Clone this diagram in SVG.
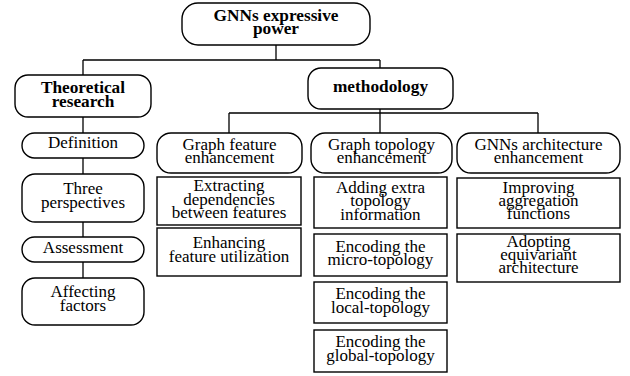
<svg xmlns="http://www.w3.org/2000/svg" width="630" height="376" viewBox="0 0 630 376">
<style>
.b{fill:#fff;stroke:#000;stroke-width:1.4}
.t{font-family:"Liberation Serif","Times New Roman",serif;font-size:17px;text-anchor:middle;fill:#000}
.bd{font-weight:bold;font-size:17.3px}
.c{fill:none;stroke:#000;stroke-width:1.3}
</style>
<rect width="630" height="376" fill="#fff"/>
<g id="connectors">
<path class="c" d="M276,45V60M83,60H380M83,60V75M380,60V68"/>
<path class="c" d="M83,117V278"/>
<path class="c" d="M380,109V113M229,113H538M229,113V133M380,113V133M538,113V133"/>
</g>
<g id="root"><rect class="b" x="182" y="3" width="188" height="42" rx="16"/>
<text class="t bd" x="276" y="21">GNNs expressive</text><text class="t bd" x="276" y="34">power</text></g>
<g id="theoretical"><rect class="b" x="15" y="75" width="136" height="42" rx="13"/>
<text class="t bd" x="83" y="93">Theoretical</text><text class="t bd" x="83" y="107">research</text></g>
<g id="methodology"><rect class="b" x="308" y="68" width="145" height="41" rx="13"/>
<text class="t bd" x="380.5" y="92">methodology</text></g>
<g id="definition"><rect class="b" x="22" y="133" width="122" height="25" rx="12.5"/>
<text class="t" x="83" y="148">Definition</text></g>
<g id="three"><rect class="b" x="22" y="174" width="122" height="48" rx="13"/>
<text class="t" x="83" y="194">Three</text><text class="t" x="83" y="208">perspectives</text></g>
<g id="assessment"><rect class="b" x="22" y="237" width="122" height="25" rx="12.5"/>
<text class="t" x="83" y="253">Assessment</text></g>
<g id="affecting"><rect class="b" x="22" y="278" width="122" height="47" rx="13"/>
<text class="t" x="83" y="297">Affecting</text><text class="t" x="83" y="311">factors</text></g>
<g id="gfe"><rect class="b" x="157" y="133" width="145" height="40" rx="14"/>
<text class="t" x="229.5" y="150">Graph feature</text><text class="t" x="229.5" y="163">enhancement</text></g>
<g id="gte"><rect class="b" x="311" y="133" width="141" height="40" rx="14"/>
<text class="t" x="381.5" y="150">Graph topology</text><text class="t" x="381.5" y="163">enhancement</text></g>
<g id="gae"><rect class="b" x="457" y="133" width="163" height="40" rx="14"/>
<text class="t" x="538.5" y="150">GNNs architecture</text><text class="t" x="538.5" y="163">enhancement</text></g>
<g id="extracting"><rect class="b" x="157" y="177" width="144" height="48"/>
<text class="t" x="229" y="191">Extracting</text><text class="t" x="229" y="205">dependencies</text><text class="t" x="229" y="218">between features</text></g>
<g id="enhancing"><rect class="b" x="157" y="228" width="144" height="48"/>
<text class="t" x="229" y="248">Enhancing</text><text class="t" x="229" y="262">feature utilization</text></g>
<g id="adding"><rect class="b" x="314" y="177" width="133" height="51"/>
<text class="t" x="380.5" y="193">Adding extra</text><text class="t" x="380.5" y="206">topology</text><text class="t" x="380.5" y="220">information</text></g>
<g id="micro"><rect class="b" x="314" y="234" width="133" height="42"/>
<text class="t" x="380.5" y="252">Encoding the</text><text class="t" x="380.5" y="265">micro-topology</text></g>
<g id="local"><rect class="b" x="314" y="282" width="133" height="41"/>
<text class="t" x="380.5" y="299">Encoding the</text><text class="t" x="380.5" y="313">local-topology</text></g>
<g id="global"><rect class="b" x="314" y="330" width="133" height="42"/>
<text class="t" x="380.5" y="347">Encoding the</text><text class="t" x="380.5" y="361">global-topology</text></g>
<g id="improving"><rect class="b" x="457" y="178" width="163" height="50"/>
<text class="t" x="538.5" y="193">Improving</text><text class="t" x="538.5" y="206">aggregation</text><text class="t" x="538.5" y="219">functions</text></g>
<g id="adopting"><rect class="b" x="457" y="234" width="163" height="48"/>
<text class="t" x="538.5" y="247">Adopting</text><text class="t" x="538.5" y="260">equivariant</text><text class="t" x="538.5" y="273">architecture</text></g>
</svg>
